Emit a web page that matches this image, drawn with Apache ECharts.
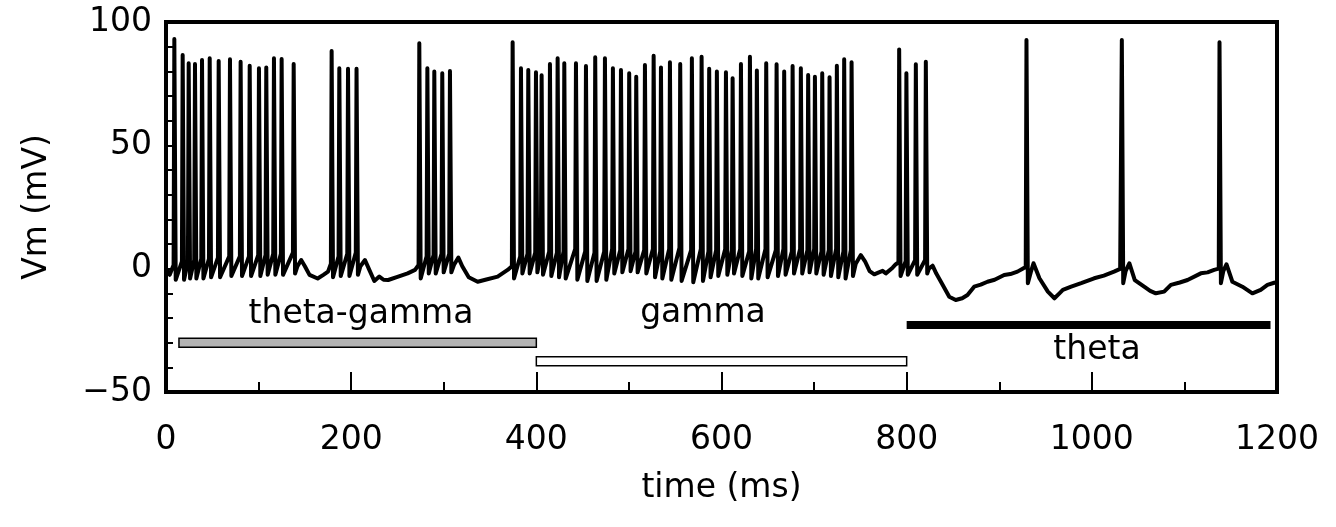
<!DOCTYPE html>
<html>
<head>
<meta charset="utf-8">
<script src="https://cdn.jsdelivr.net/npm/echarts@6/dist/echarts.min.js"></script>
<style>
html,body{margin:0;padding:0;background:#fff;}
#chart{width:1336px;height:527px;}
</style>
</head>
<body>
<div id="chart"></div>
<script>
// ---- Spikes: time (ms), peak (mV), Vm just before (mV), Vm trough just after (mV)
const spikeMs = [
  9.0, 18.0, 24.5, 31.3, 38.9, 47.2, 56.9, 69.1, 80.6, 90.4, 100.4, 108.3, 116.6, 124.9, 137.9,
  178.9, 187.2, 196.6, 205.8,
  273.6, 282.3, 289.8, 298.4, 306.7,
  374.4, 383.4, 391.3, 399.6, 405.7, 414.7, 423.0, 430.2, 442.8, 453.6, 463.6, 474.1, 482.7, 491.4,
  500.3, 507.9, 517.3, 526.7, 534.6, 544.3, 555.4, 568.0, 578.5, 586.7, 595.0, 604.8, 612.0, 621.0,
  630.7, 638.2, 648.3, 659.5, 667.7, 676.8, 685.7, 693.6, 700.9, 708.8, 716.7, 724.6, 732.5, 740.5,
  791.9, 799.7, 809.9, 820.7,
  929.4, 1032.4, 1137.9
];
const spikePeakMv = [
  93.1, 86.6, 83.3, 83.0, 84.6, 85.3, 84.2, 84.9, 83.9, 82.3, 81.2, 81.6, 85.3, 85.0, 83.0,
  88.2, 81.2, 81.0, 81.0,
  91.4, 81.2, 79.9, 79.2, 80.1,
  91.8, 81.2, 80.5, 79.6, 78.4, 83.0, 85.3, 83.3, 83.3, 82.2, 85.7, 85.3, 81.2, 80.5,
  79.2, 77.8, 82.6, 86.3, 81.6, 83.7, 83.0, 85.3, 85.9, 81.0, 79.9, 79.6, 77.2, 83.0,
  85.9, 80.3, 83.3, 82.9, 79.9, 82.2, 81.2, 78.5, 77.8, 79.2, 77.6, 82.3, 84.9, 83.7,
  88.9, 79.2, 82.9, 83.9,
  92.7, 92.7, 91.8
];
const spikePreMv = [
  1.5, 3, 3, 3.5, 4, 4, 4.5, 5, 5, 5, 5.5, 5.5, 6, 6, 6.5,
  2, 5, 6, 6.5,
  1.5, 5, 5.5, 6, 6,
  1.0, 5, 6, 6.5, 6, 7, 6.5, 7, 8, 7, 6.5, 7, 8, 7.5,
  8, 7, 7.5, 8, 7, 8, 8.5, 7.5, 8, 7, 7.5, 8, 7.5, 8,
  7, 8, 8, 7.5, 8, 7, 8, 7.5, 8, 7, 7.5, 8, 7, 7.5,
  2.5, 3, 3.5, 3.5,
  0.5, 0, 0
];
const spikePostMv = [
  -4.5, -4.5, -4, -4, -4, -3.5, -3.5, -3, -3, -3, -3, -2.5, -2.5, -2.5, -2,
  -3.5, -3, -3, -2.5,
  -4, -2, -2, -1.5, -1.5,
  -4, -2, -2, -1.5, -2.5, -3, -3.5, -4, -4.5, -5, -5, -4.5, -2, -1.5,
  -1, -1.5, -2, -3.5, -4, -4.5, -5, -5.5, -5, -3.5, -3, -2.5, -2, -3,
  -4, -4, -3.5, -3, -2.5, -2, -2, -1.5, -2, -2.5, -3, -3.5, -4, -3,
  -3, -2.5, -2.5, -2,
  -5.9, -5.9, -5.9
];

// ---- Subthreshold Vm between bursts
const restMs = [
  0, 4,
  142, 146, 150, 155, 163.8, 170, 175,
  210, 214.9, 219, 225, 230.4, 235, 240, 250, 261, 269,
  311, 315.8, 320, 327, 336.6, 345, 358.2, 369,
  745, 750.5, 755, 760, 765, 770, 774, 777.5, 784.8, 788.3,
  824, 828, 832, 837, 846, 853, 860, 865.7, 872.9, 880, 887.3, 895, 905.3, 912, 919.7, 926.2,
  934, 937, 943.4, 952.5, 959.6, 965, 968.7, 977.7, 988.5, 1002.5, 1013, 1024, 1030.6,
  1036.5, 1040.5, 1046.4, 1056.5, 1063, 1069.1, 1078.1, 1085.4, 1095, 1103.4, 1117.7, 1125, 1132.1,
  1142, 1145.4, 1151.8, 1162.6, 1173.4, 1182.4, 1189.7, 1197, 1200
];
const restMv = [
  0, -2.5,
  1, 3.5, 1, -2.5, -4, -2.5, -1.2,
  1, 3.5, 0, -5, -3.2, -4.5, -4.6, -3.3, -1.9, -0.5,
  1.5, 4.5, 1, -3.5, -5.3, -4.5, -3.2, -0.5,
  2, 5.5, 3, -1, -2.3, -1.5, -0.9, -1.9, 0.4, 1.8,
  0, 1.2, -2, -5.3, -11.4, -12.7, -12, -10.7, -7.3, -6.5, -5.3, -4.5, -2.6, -2.2, -1.2, 0.2,
  -1.5, 2.2, -3.9, -9.3, -12, -10, -8.6, -7.3, -5.9, -3.9, -2.8, -1.2, -0.1,
  -1, 2.2, -4.6, -7.3, -9, -10, -9.3, -6.6, -5.6, -4.6, -1.9, -1.5, -0.5,
  -1, 1.8, -5.3, -7.3, -10, -8.6, -6.6, -5.7, -5.5
];

// ---- Stimulation-period bars
const barStartMs = [14, 400, 800];
const barEndMs = [400, 800, 1193];
const barLevelMv = [-30, -37.5, -22.8];

// ---- Period labels
const labelText = ['theta-gamma', 'gamma', 'theta'];
const labelMs = [210.6, 580, 1005.6];
const labelMv = [-18.6, -18.2, -33.0];

// ---- Axis ticks
const xTicks = { min: 0, max: 1200, interval: 200 };
const yTicks = { min: -50, max: 100, interval: 50 };

// assemble trace
const trace = [];
spikeMs.forEach((t, i) => {
  trace.push([t - 0.8, spikePreMv[i]], [t, spikePeakMv[i]], [t + 1.5, spikePostMv[i]]);
});
restMs.forEach((t, i) => trace.push([t, restMv[i]]));
trace.sort((a, b) => a[0] - b[0]);

const barData = barStartMs.map((s, i) => [s, barEndMs[i], barLevelMv[i]]);
const labelData = labelMs.map((t, i) => ({ value: [t, labelMv[i]], name: labelText[i] }));

const barStyles = [
  { fill: '#b4b4b4', stroke: '#000', lineWidth: 1.5, h: 9 },
  { fill: '#ffffff', stroke: '#000', lineWidth: 1.5, h: 9 },
  { fill: '#000000', stroke: '#000', lineWidth: 0, h: 8 }
];

const FONT = '"DejaVu Sans", sans-serif';
const chart = echarts.init(document.getElementById('chart'), null, { renderer: 'canvas' });
chart.setOption({
  animation: false,
  backgroundColor: '#fff',
  grid: { left: 166, right: 59, top: 22, bottom: 135, show: true, borderColor: '#000', borderWidth: 4, backgroundColor: 'transparent' },
  xAxis: {
    type: 'value', min: xTicks.min, max: xTicks.max, interval: xTicks.interval,
    name: 'time (ms)', nameLocation: 'middle', nameGap: 80,
    nameTextStyle: { fontFamily: FONT, fontSize: 33, color: '#000' },
    axisLine: { show: true, onZero: false, lineStyle: { color: '#000', width: 4 } },
    axisTick: { show: true, inside: true, length: 20, lineStyle: { color: '#000', width: 2 } },
    minorTick: { show: true, splitNumber: 2, length: 10, lineStyle: { color: '#000', width: 2 } },
    splitLine: { show: false }, minorSplitLine: { show: false },
    axisLabel: { fontFamily: FONT, fontSize: 33, color: '#000', margin: 32, formatter: v => String(v) }
  },
  yAxis: {
    type: 'value', min: yTicks.min, max: yTicks.max, interval: yTicks.interval,
    name: 'Vm (mV)', nameLocation: 'middle', nameGap: 112, nameRotate: 90,
    nameTextStyle: { fontFamily: FONT, fontSize: 33, color: '#000' },
    axisLine: { show: true, onZero: false, lineStyle: { color: '#000', width: 4 } },
    axisTick: { show: true, inside: true, length: 7, lineStyle: { color: '#000', width: 2 } },
    minorTick: { show: true, splitNumber: 5, length: 7, lineStyle: { color: '#000', width: 2 } },
    splitLine: { show: false }, minorSplitLine: { show: false },
    axisLabel: { fontFamily: FONT, fontSize: 33, color: '#000', margin: 14,
      formatter: v => (v < 0 ? '\u2212' + Math.abs(v) : String(v)) }
  },
  series: [
    {
      type: 'custom', z: 3,
      data: barData,
      encode: { x: [0, 1], y: 2 },
      renderItem: (params, api) => {
        const st = barStyles[params.dataIndex];
        const p0 = api.coord([api.value(0), api.value(2)]);
        const p1 = api.coord([api.value(1), api.value(2)]);
        return {
          type: 'rect',
          shape: { x: p0[0], y: p0[1] - st.h / 2, width: p1[0] - p0[0], height: st.h },
          style: { fill: st.fill, stroke: st.lineWidth ? st.stroke : null, lineWidth: st.lineWidth }
        };
      }
    },
    {
      type: 'custom', z: 3,
      data: labelData,
      encode: { x: 0, y: 1 },
      renderItem: (params, api) => {
        const p = api.coord([api.value(0), api.value(1)]);
        return {
          type: 'text', x: p[0], y: p[1],
          style: { text: labelText[params.dataIndex], fill: '#000', fontSize: 33, fontFamily: FONT, align: 'center', verticalAlign: 'middle' }
        };
      }
    },
    {
      type: 'line', z: 4,
      data: trace,
      showSymbol: false, symbol: 'none', smooth: false, sampling: null,
      lineStyle: { color: '#000', width: 4, join: 'round', cap: 'round' }
    }
  ]
});
</script>
</body>
</html>
